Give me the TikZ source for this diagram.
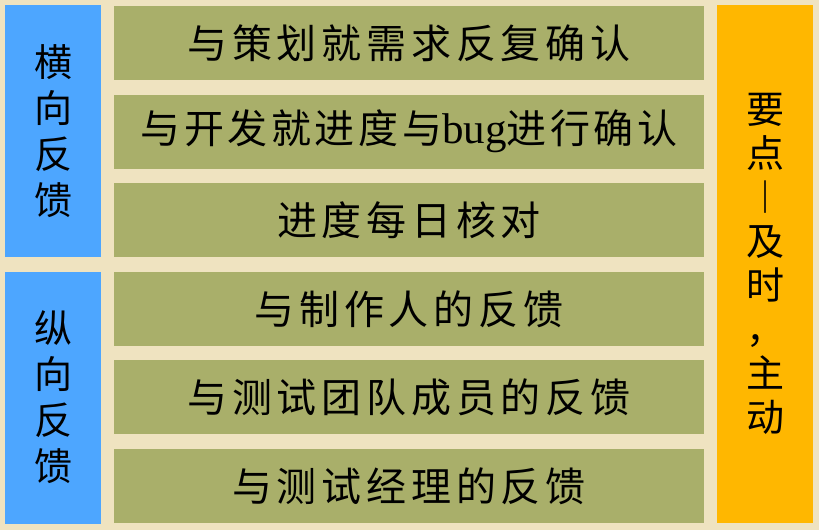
\documentclass[tikz,border=0pt]{standalone}
\usepackage{fontspec}
\newfontfamily\cjk{Noto Sans CJK SC}
\newfontfamily\cjkwide[LetterSpace=12]{Noto Sans CJK SC}
\newfontfamily\cjknarrow[LetterSpace=9]{Noto Sans CJK SC}
\newfontfamily\latinserif{Liberation Serif}
\definecolor{paper}{HTML}{EFE3C0}
\definecolor{sideblue}{HTML}{4DA6FF}
\definecolor{rowolive}{HTML}{A9AF6A}
\definecolor{keyorange}{HTML}{FFB700}
\tikzset{
  sidebox/.style={fill=sideblue, minimum width=96pt, minimum height=252pt, inner sep=0pt,
    align=center, font=\cjk\fontsize{38}{46}\selectfont},
  rowbox/.style={fill=rowolive, minimum width=590pt, minimum height=74pt, inner sep=0pt,
    font=\cjkwide\fontsize{40}{44}\selectfont},
  keybox/.style={fill=keyorange, minimum width=96pt, minimum height=518pt, inner sep=0pt,
    align=center, font=\cjk\fontsize{38}{44}\selectfont}
}
\begin{document}
\begin{tikzpicture}[x=1pt,y=-1pt]
  \fill[paper] (0,0) rectangle (819,530);
  \useasboundingbox (0,0) rectangle (819,530);
  % left side
  \node[sidebox] (horiz) at (53,131) {横\\向\\反\\馈};
  \node[sidebox] (vert) at (53,397.5) {纵\\向\\反\\馈};
  % rows
  \foreach \i/\txt in {0/与策划就需求反复确认, 1/{{\cjknarrow 与开发就进度与{\latinserif\fontsize{43}{44}\selectfont bug}进行确认}},
      2/进度每日核对, 3/与制作人的反馈, 4/与测试团队成员的反馈, 5/与测试经理的反馈}
    \node[rowbox] (row\i) at (409,43+88.6*\i) {\txt};
  % right side
  \node[keybox] (key) at (765,264) {要\\点\\︱\\及\\时\\，\\主\\动};
\end{tikzpicture}
\end{document}
